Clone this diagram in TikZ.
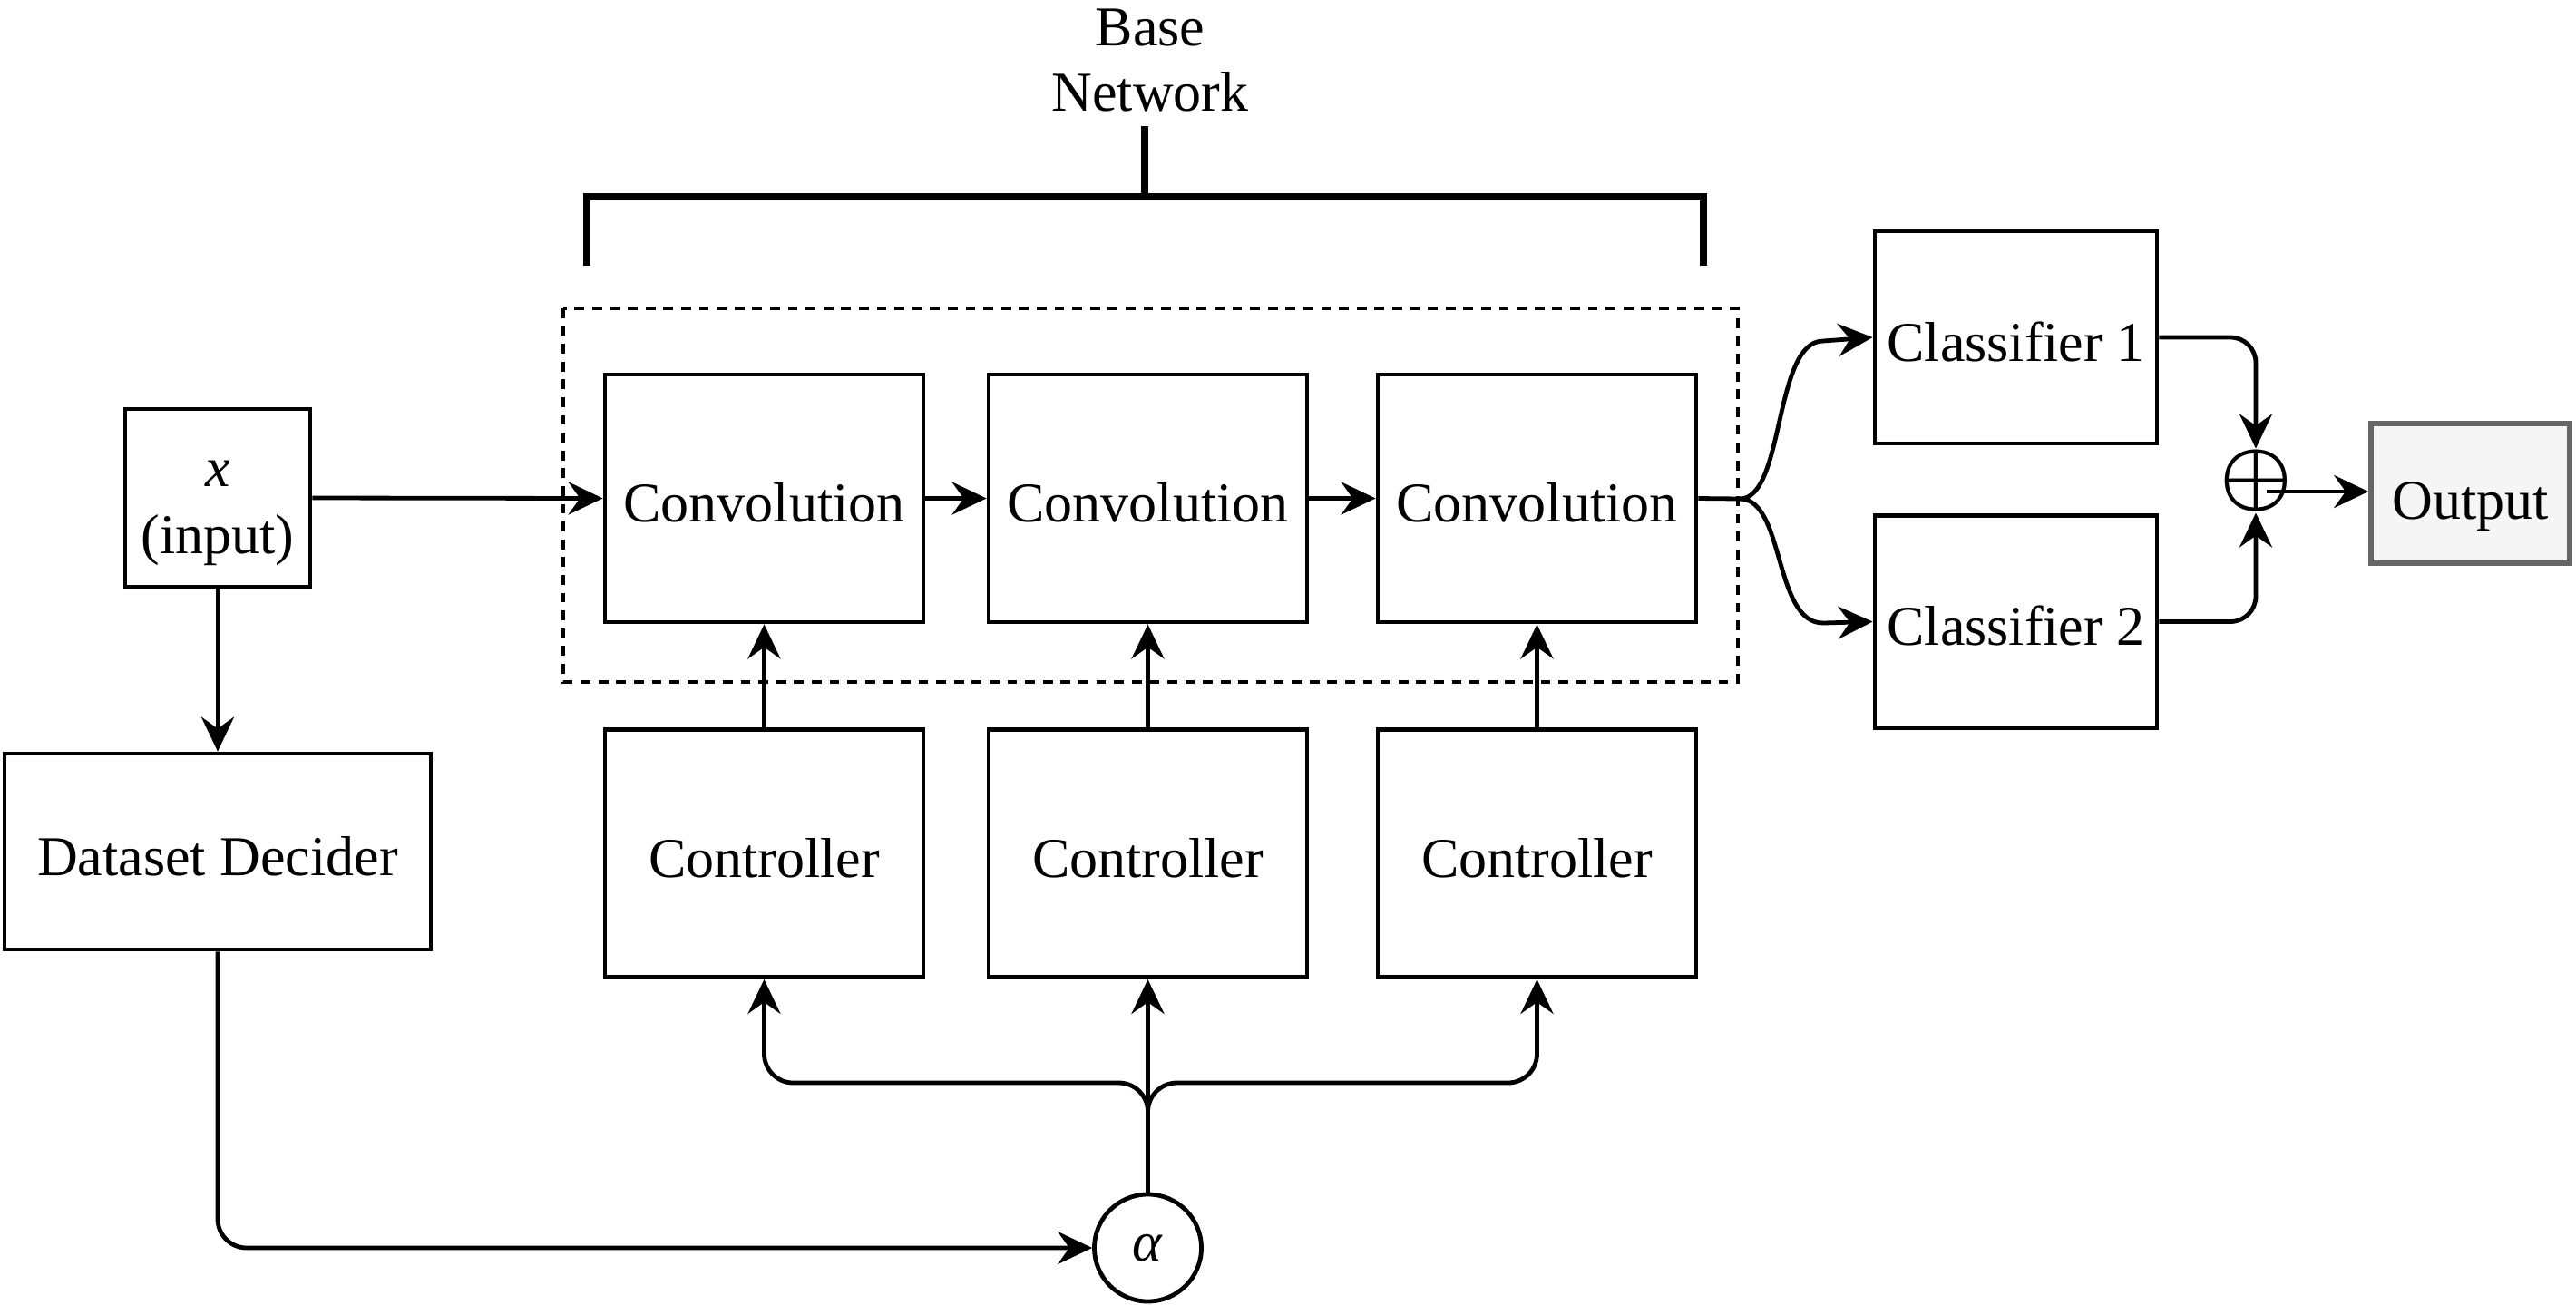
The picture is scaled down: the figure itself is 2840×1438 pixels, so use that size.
\documentclass[tikz,border=0pt]{standalone}
\usepackage{fontspec}
\setmainfont{Liberation Serif}
\usetikzlibrary{arrows.meta,calc}
\newcommand{\myoplus}{\mbox{\boldmath$\oplus$}}
\begin{document}
\begin{tikzpicture}[x=0.25pt,y=-0.25pt,
  font=\fontsize{15.5pt}{18pt}\selectfont,
  blk/.style={draw,line width=1.2pt,inner sep=0pt,align=center,text height=13.2pt,text depth=0pt},
  convbox/.style={blk,minimum width=87.75pt,minimum height=68.25pt},
  clsbox/.style={blk,minimum width=77.75pt,minimum height=58.5pt},
  arr/.style={line width=1.2pt,-{Stealth[length=9.5pt,width=9pt,inset=3.2pt]}},
  conn/.style={line width=1.2pt}]
\useasboundingbox (0,0) rectangle (2840,1438);
% nodes
\node[draw,line width=1.2pt,inner sep=0pt,minimum width=51pt,minimum height=49pt] (xin) at (240,549) {};
\node[align=center,inner sep=0pt,font=\fontsize{15.5pt}{18.5pt}\selectfont] (xlab) at (240,566) {\textit{x}\\(input)};
\node[blk,minimum width=117.5pt,minimum height=54pt] (dd) at (240,939) {Dataset Decider};
\node[convbox] (c1) at (842.5,549.5) {Convolution};
\node[convbox] (c2) at (1265.5,549.5) {Convolution};
\node[convbox] (c3) at (1694.5,549.5) {Convolution};
\node[convbox] (k1) at (842.5,941) {Controller};
\node[convbox] (k2) at (1265.5,941) {Controller};
\node[convbox] (k3) at (1694.5,941) {Controller};
\node[clsbox] (cl1) at (2222.5,372) {Classifier 1};
\node[clsbox] (cl2) at (2222.5,685.5) {Classifier 2};
\node[blk,draw=black!60,fill=black!4,line width=1.4pt,text height=14pt,minimum width=54.75pt,minimum height=38.5pt] (out) at (2723.5,544) {Output};
\node[inner sep=0pt,scale=1.55] (op) at (2487,530) {\myoplus};
\node[draw,circle,line width=1.2pt,minimum size=29.5pt,inner sep=0pt] (al) at (1265.5,1376) {\textit{α}};
% dashed base-network frame
\draw[line width=1.2pt,dash pattern=on 2.7pt off 2.2pt] (621,340) rectangle (1916,752);
% bracket
\draw[line width=1.8pt] (647,293) -- (647,217) -- (1878,217) -- (1878,293);
\draw[line width=1.8pt] (1262,217) -- (1262,139);
\node[align=center,inner sep=0pt] (bn) at (1268,66) {Base\\Network};
% connectors
\draw[arr] (xin.east) -- (c1.west);
\draw[arr] (xin.south) -- (dd.north);
\draw[arr] (c1.east) -- (c2.west);
\draw[arr] (c2.east) -- (c3.west);
\draw[arr] (k1.north) -- (c1.south);
\draw[arr] (k2.north) -- (c2.south);
\draw[arr] (k3.north) -- (c3.south);
\coordinate (j) at (1918,550);
\draw[conn] (c3.east) -- (j);
\draw[arr] (j) .. controls (1968,550) and (1955,376) .. (2010,376) -- (cl1.west);
\draw[arr] (j) .. controls (1968,550) and (1955,687) .. (2010,687) -- (cl2.west);
\draw[arr,rounded corners=7pt] (cl1.east) -| (op.north);
\draw[arr,rounded corners=7pt] (cl2.east) -| (op.south);
\draw[arr] ($(op.center)+(12,12)$) -- ($(out.west)+(0,-2)$);
\draw[arr] (al.north) -- (k2.south);
\coordinate (b1) at (842.5,1194);
\coordinate (b3) at (1694.5,1194);
\draw[arr,rounded corners=8pt] (al.north) |- (b1) -- (k1.south);
\draw[arr,rounded corners=8pt] (al.north) |- (b3) -- (k3.south);
\draw[arr,rounded corners=8pt] (dd.south) |- (al.west);
\end{tikzpicture}
\end{document}
